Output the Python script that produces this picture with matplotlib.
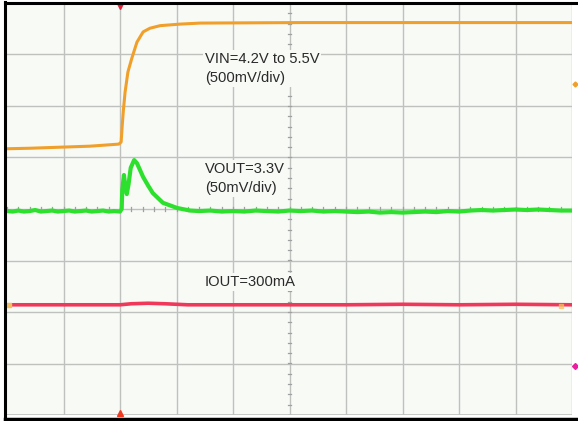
import numpy as np
import matplotlib
matplotlib.use("Agg")
import matplotlib.pyplot as plt
from matplotlib.lines import Line2D

# ---------------- data (scope divisions: x 0..10, y -4..4) ----------------
vin_t = [0.00, 0.41, 0.94, 1.47, 1.98, 2.02, 2.04, 2.06, 2.09, 2.14, 2.21,
         2.30, 2.41, 2.53, 2.71, 3.06, 3.42, 5.19, 10.0]
vin_v = [1.17, 1.18, 1.20, 1.22, 1.26, 1.30, 1.63, 1.92, 2.27, 2.66, 2.93,
         3.24, 3.44, 3.51, 3.56, 3.59, 3.61, 3.62, 3.62]

vout_t = [0.00, 0.10, 0.20, 0.30, 0.40, 0.50, 0.60, 0.70, 0.80, 0.90,
          1.00, 1.10, 1.20, 1.30, 1.40, 1.50, 1.60, 1.70, 1.80, 1.90, 2.00,
          2.03, 2.04, 2.07, 2.09, 2.12, 2.15, 2.19, 2.25, 2.30, 2.41, 2.50,
          2.58, 2.76, 3.01, 3.24,
          3.40, 3.60, 3.80, 4.00, 4.20, 4.40, 4.60, 4.80, 5.00, 5.20, 5.40,
          5.60, 5.80, 6.00, 6.20, 6.40, 6.60, 6.80, 7.00, 7.20, 7.40, 7.60,
          7.80, 8.00, 8.20, 8.40, 8.60, 8.80, 9.00, 9.20, 9.40, 9.60, 9.80,
          10.0]
vout_v = [-0.04, -0.05, -0.03, -0.05, -0.04, -0.02, -0.05, -0.04, -0.03, -0.05,
          -0.04, -0.03, -0.05, -0.04, -0.03, -0.05, -0.04, -0.03, -0.05, -0.04, -0.05,
          0.00, 0.37, 0.66, 0.47, 0.29, 0.47, 0.80, 0.95, 0.89, 0.62, 0.45,
          0.31, 0.12, 0.02, -0.03,
          -0.04, -0.03, -0.05, -0.04, -0.05, -0.03, -0.04, -0.05, -0.03, -0.04, -0.03,
          -0.05, -0.04, -0.05, -0.06, -0.05, -0.07, -0.06, -0.07, -0.06, -0.05, -0.06,
          -0.04, -0.05, -0.03, -0.02, -0.03, -0.02, -0.01, -0.02, -0.01, -0.02, -0.03,
          -0.03]

iout_t = [0.00, 1.00, 2.00, 2.20, 2.50, 2.80, 3.20, 4.00, 5.00, 6.00, 7.00,
          8.00, 9.00, 10.0]
iout_v = [-1.86, -1.86, -1.86, -1.84, -1.83, -1.84, -1.86, -1.86, -1.86,
          -1.86, -1.85, -1.86, -1.85, -1.86]

labels = ["VIN=4.2V to 5.5V\n(500mV/div)", "VOUT=3.3V\n(50mV/div)", "IOUT=300mA"]
label_pos = [(3.50, 2.72), (3.50, 0.60), (3.49, -1.42)]

# ---------------- figure ----------------
W, H = 578, 421
fig = plt.figure(figsize=(W / 100, H / 100), dpi=100)
fig.patch.set_facecolor("white")

L, R, T, B = 7, 572, 3, 415
ax = fig.add_axes([L / W, (H - B) / H, (R - L) / W, (B - T) / H])
ax.set_facecolor("#f8faf6")
ax.set_xlim(0, 10)
ax.set_ylim(-4, 4)
ax.set_xticks([])
ax.set_yticks([])
for s in ax.spines.values():
    s.set_visible(False)

gcol = "#bfc1bf"
for xv in range(1, 11):
    ax.axvline(xv, color=gcol, lw=1.0, zorder=1)
for yv in range(-3, 5):
    ax.axhline(yv, color=gcol, lw=1.0, zorder=1)
ax.axhline(-4, color=gcol, lw=1.2, zorder=1)

# minor ticks on center lines
for yy in np.arange(-4, 4.01, 0.2):
    ax.plot([4.97, 5.03], [yy, yy], color="#a0a0a0", lw=0.9, zorder=1)
for xx in np.arange(0, 10.01, 0.2):
    ax.plot([xx, xx], [-0.035, 0.035], color="#a0a0a0", lw=0.9, zorder=1)

# traces
ax.plot(iout_t, iout_v, color="#f0385a", lw=2.6, zorder=3, solid_capstyle="butt")
ax.plot(vin_t, vin_v, color="#f0a02a", lw=2.2, zorder=3, solid_capstyle="butt")
ax.plot(vout_t, vout_v, color="#2ee02e", lw=3.0, zorder=3, solid_capstyle="butt")

# labels
for txt, (x, y) in zip(labels, label_pos):
    ax.text(x, y, txt, fontsize=10.6, family="Liberation Sans", color="#2a2a2a",
            ha="left", va="center", linespacing=1.45, zorder=4,
            bbox=dict(facecolor="#f8faf6", edgecolor="none", pad=1.5))

# markers
ax.plot([2.0], [3.95], marker="v", color="#e8203a", ms=5, clip_on=False, zorder=5)
ax.plot([2.0], [-3.97], marker="^", color="#f03a20", ms=5, clip_on=False, zorder=5)
ax.plot([10.05], [2.43], marker="D", color="#f0a02a", ms=2.5, clip_on=False, zorder=5)
ax.plot([10.06], [-3.05], marker="D", color="#e820a0", ms=3, clip_on=False, zorder=5)
ax.plot([0.03], [-1.86], marker="s", color="#f5c060", ms=3, clip_on=False, zorder=5)
ax.plot([9.8], [-1.88], marker="s", color="#f5c060", ms=3, alpha=0.7, clip_on=False, zorder=5)

# outer black frame (left, top, bottom)
fig.add_artist(Line2D([5 / W, 5 / W], [0, 1 - 1.5 / H], color="black", lw=2.2))
fig.add_artist(Line2D([5 / W, 1], [1 - 2.5 / H, 1 - 2.5 / H], color="black", lw=2.2))
fig.add_artist(Line2D([5 / W, 1], [2 / H, 2 / H], color="black", lw=2.5))

fig.savefig("out.png", dpi=100, facecolor="white")
